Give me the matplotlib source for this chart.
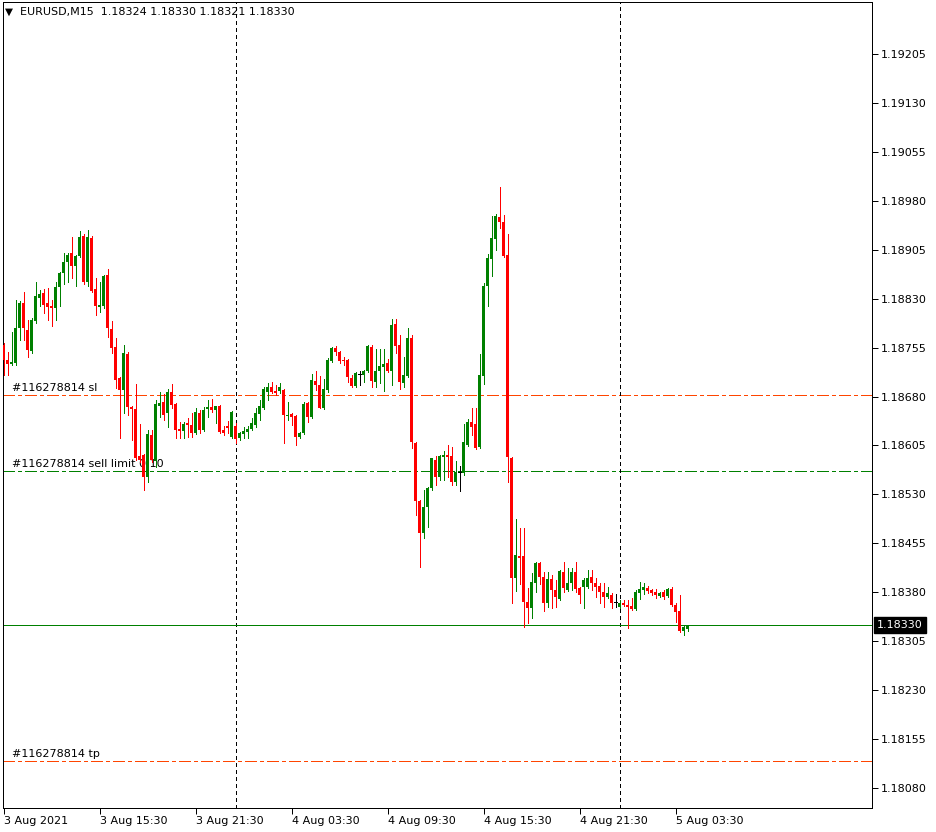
import matplotlib
matplotlib.use("Agg")
import matplotlib.pyplot as plt
import numpy as np

symbol_header = "EURUSD,M15  1.18324 1.18330 1.18321 1.18330"

opens = [
    1.18759, 1.18736, 1.18730, 1.18731, 1.18785, 1.18823, 1.18782, 1.18750, 1.18796, 1.18831,
    1.18839, 1.18823, 1.18818, 1.18815, 1.18848, 1.18869, 1.18886, 1.18900, 1.18880, 1.18895,
    1.18926, 1.18855, 1.18923, 1.18845, 1.18817, 1.18818, 1.18866, 1.18784, 1.18756, 1.18708,
    1.18690, 1.18745, 1.18664, 1.18661, 1.18589, 1.18591, 1.18556, 1.18621, 1.18581, 1.18665,
    1.18671, 1.18655, 1.18687, 1.18668, 1.18630, 1.18627, 1.18639, 1.18636, 1.18624, 1.18655,
    1.18629, 1.18661, 1.18664, 1.18659, 1.18665, 1.18629, 1.18635, 1.18618, 1.18635, 1.18616,
    1.18623, 1.18626, 1.18630, 1.18636, 1.18653, 1.18663, 1.18687, 1.18694, 1.18688, 1.18688,
    1.18690, 1.18650, 1.18653, 1.18650, 1.18618, 1.18624, 1.18670, 1.18649, 1.18704, 1.18698,
    1.18663, 1.18690, 1.18734, 1.18754, 1.18748, 1.18736, 1.18736, 1.18708, 1.18696, 1.18714,
    1.18713, 1.18719, 1.18756, 1.18702, 1.18719, 1.18725, 1.18731, 1.18719, 1.18791, 1.18759,
    1.18701, 1.18711, 1.18769, 1.18609, 1.18520, 1.18471, 1.18511, 1.18539, 1.18583, 1.18557,
    1.18588, 1.18591, 1.18589, 1.18549, 1.18564, 1.18563, 1.18606, 1.18641, 1.18638, 1.18603,
    1.18711, 1.18849, 1.18891, 1.18921, 1.18955, 1.18947, 1.18897, 1.18586, 1.18402, 1.18435,
    1.18435, 1.18365, 1.18356, 1.18394, 1.18425, 1.18403, 1.18364, 1.18400, 1.18383, 1.18370,
    1.18411, 1.18383, 1.18394, 1.18411, 1.18386, 1.18388, 1.18388, 1.18403, 1.18394, 1.18389,
    1.18380, 1.18373, 1.18376, 1.18365, 1.18358, 1.18364, 1.18361, 1.18359, 1.18355, 1.18379,
    1.18383, 1.18386, 1.18383, 1.18380, 1.18374, 1.18380, 1.18374, 1.18385, 1.18361, 1.18351,
    1.18320, 1.18324,
]
highs = [
    1.18762, 1.18748, 1.18779, 1.18828, 1.18826, 1.18840, 1.18797, 1.18800, 1.18855, 1.18843,
    1.18845, 1.18846, 1.18828, 1.18855, 1.18871, 1.18900, 1.18900, 1.18924, 1.18897, 1.18934,
    1.18929, 1.18935, 1.18926, 1.18862, 1.18856, 1.18866, 1.18875, 1.18796, 1.18769, 1.18710,
    1.18759, 1.18748, 1.18666, 1.18699, 1.18638, 1.18592, 1.18629, 1.18629, 1.18675, 1.18687,
    1.18684, 1.18691, 1.18699, 1.18670, 1.18641, 1.18641, 1.18647, 1.18655, 1.18663, 1.18659,
    1.18664, 1.18675, 1.18676, 1.18666, 1.18667, 1.18635, 1.18643, 1.18658, 1.18640, 1.18626,
    1.18633, 1.18635, 1.18647, 1.18663, 1.18675, 1.18694, 1.18700, 1.18702, 1.18697, 1.18700,
    1.18691, 1.18671, 1.18655, 1.18652, 1.18626, 1.18671, 1.18671, 1.18714, 1.18719, 1.18711,
    1.18707, 1.18739, 1.18756, 1.18757, 1.18750, 1.18741, 1.18737, 1.18713, 1.18717, 1.18719,
    1.18721, 1.18759, 1.18759, 1.18753, 1.18753, 1.18753, 1.18737, 1.18799, 1.18799, 1.18774,
    1.18741, 1.18785, 1.18774, 1.18610, 1.18521, 1.18537, 1.18541, 1.18586, 1.18589, 1.18591,
    1.18597, 1.18606, 1.18603, 1.18581, 1.18574, 1.18638, 1.18646, 1.18662, 1.18662, 1.18745,
    1.18854, 1.18898, 1.18957, 1.18960, 1.19001, 1.18958, 1.18929, 1.18588, 1.18492, 1.18478,
    1.18478, 1.18386, 1.18410, 1.18426, 1.18426, 1.18411, 1.18411, 1.18406, 1.18399, 1.18414,
    1.18426, 1.18417, 1.18417, 1.18426, 1.18388, 1.18402, 1.18414, 1.18414, 1.18402, 1.18394,
    1.18394, 1.18388, 1.18379, 1.18377, 1.18368, 1.18368, 1.18368, 1.18371, 1.18383, 1.18396,
    1.18394, 1.18389, 1.18385, 1.18385, 1.18380, 1.18383, 1.18386, 1.18388, 1.18364, 1.18376,
    1.18330, 1.18330,
]
lows = [
    1.18713, 1.18713, 1.18728, 1.18728, 1.18767, 1.18767, 1.18741, 1.18747, 1.18793, 1.18818,
    1.18808, 1.18797, 1.18788, 1.18797, 1.18818, 1.18853, 1.18856, 1.18862, 1.18850, 1.18894,
    1.18852, 1.18850, 1.18840, 1.18805, 1.18809, 1.18815, 1.18771, 1.18747, 1.18693, 1.18616,
    1.18655, 1.18652, 1.18613, 1.18583, 1.18580, 1.18537, 1.18549, 1.18580, 1.18572, 1.18649,
    1.18644, 1.18633, 1.18662, 1.18616, 1.18616, 1.18616, 1.18618, 1.18618, 1.18623, 1.18624,
    1.18627, 1.18649, 1.18657, 1.18640, 1.18624, 1.18621, 1.18624, 1.18617, 1.18609, 1.18614,
    1.18616, 1.18616, 1.18628, 1.18634, 1.18644, 1.18661, 1.18675, 1.18685, 1.18682, 1.18686,
    1.18609, 1.18644, 1.18636, 1.18606, 1.18616, 1.18623, 1.18641, 1.18647, 1.18690, 1.18662,
    1.18661, 1.18687, 1.18733, 1.18744, 1.18731, 1.18728, 1.18702, 1.18694, 1.18694, 1.18698,
    1.18702, 1.18718, 1.18694, 1.18694, 1.18701, 1.18688, 1.18717, 1.18697, 1.18747, 1.18691,
    1.18694, 1.18710, 1.18601, 1.18498, 1.18419, 1.18463, 1.18480, 1.18537, 1.18544, 1.18552,
    1.18552, 1.18557, 1.18544, 1.18544, 1.18535, 1.18560, 1.18604, 1.18621, 1.18600, 1.18601,
    1.18699, 1.18818, 1.18865, 1.18905, 1.18938, 1.18894, 1.18549, 1.18364, 1.18382, 1.18393,
    1.18327, 1.18333, 1.18340, 1.18380, 1.18393, 1.18351, 1.18358, 1.18356, 1.18358, 1.18368,
    1.18380, 1.18382, 1.18383, 1.18380, 1.18364, 1.18356, 1.18386, 1.18383, 1.18373, 1.18364,
    1.18358, 1.18371, 1.18356, 1.18358, 1.18356, 1.18359, 1.18325, 1.18353, 1.18353, 1.18370,
    1.18377, 1.18379, 1.18376, 1.18371, 1.18373, 1.18370, 1.18373, 1.18359, 1.18334, 1.18319,
    1.18315, 1.18321,
]
closes = [
    1.18736, 1.18730, 1.18733, 1.18785, 1.18823, 1.18785, 1.18751, 1.18797, 1.18834, 1.18837,
    1.18820, 1.18817, 1.18815, 1.18848, 1.18869, 1.18886, 1.18897, 1.18880, 1.18895, 1.18925,
    1.18855, 1.18925, 1.18842, 1.18818, 1.18820, 1.18865, 1.18785, 1.18754, 1.18705, 1.18690,
    1.18747, 1.18664, 1.18661, 1.18586, 1.18583, 1.18557, 1.18623, 1.18583, 1.18668, 1.18670,
    1.18652, 1.18687, 1.18667, 1.18629, 1.18627, 1.18638, 1.18636, 1.18624, 1.18657, 1.18629,
    1.18659, 1.18664, 1.18659, 1.18665, 1.18625, 1.18624, 1.18632, 1.18657, 1.18615, 1.18624,
    1.18627, 1.18630, 1.18639, 1.18655, 1.18665, 1.18691, 1.18694, 1.18687, 1.18685, 1.18694,
    1.18652, 1.18652, 1.18649, 1.18618, 1.18624, 1.18668, 1.18649, 1.18705, 1.18698, 1.18663,
    1.18691, 1.18736, 1.18754, 1.18748, 1.18734, 1.18734, 1.18710, 1.18696, 1.18716, 1.18714,
    1.18719, 1.18757, 1.18704, 1.18719, 1.18727, 1.18730, 1.18719, 1.18790, 1.18757, 1.18702,
    1.18713, 1.18769, 1.18610, 1.18520, 1.18471, 1.18511, 1.18540, 1.18585, 1.18557, 1.18589,
    1.18591, 1.18588, 1.18549, 1.18564, 1.18564, 1.18610, 1.18641, 1.18633, 1.18601, 1.18713,
    1.18849, 1.18892, 1.18923, 1.18957, 1.18947, 1.18895, 1.18588, 1.18402, 1.18437, 1.18432,
    1.18365, 1.18356, 1.18396, 1.18425, 1.18403, 1.18364, 1.18400, 1.18383, 1.18373, 1.18412,
    1.18386, 1.18394, 1.18411, 1.18385, 1.18376, 1.18399, 1.18402, 1.18394, 1.18388, 1.18380,
    1.18373, 1.18379, 1.18364, 1.18365, 1.18364, 1.18361, 1.18358, 1.18355, 1.18380, 1.18385,
    1.18388, 1.18382, 1.18379, 1.18376, 1.18379, 1.18373, 1.18385, 1.18361, 1.18350, 1.18320,
    1.18327, 1.18330,
]

time_tick_bars = [0, 24, 48, 72, 96, 120, 144, 168]
time_tick_labels = ["3 Aug 2021", "3 Aug 15:30", "3 Aug 21:30", "4 Aug 03:30",
                    "4 Aug 09:30", "4 Aug 15:30", "4 Aug 21:30", "5 Aug 03:30"]
separator_bars = [58, 154]

price_ticks = [1.18080, 1.18155, 1.18230, 1.18305, 1.18380, 1.18455, 1.18530, 1.18605,
               1.18680, 1.18755, 1.18830, 1.18905, 1.18980, 1.19055, 1.19130, 1.19205]

bid_price = 1.18330
order_levels = [1.18682, 1.18566, 1.18121]
order_labels = ["#116278814 sl", "#116278814 sell limit 0.10", "#116278814 tp"]
order_colors = ["#FF4500", "#008000", "#FF4500"]

# ---------------------------------------------------------------
W, H = 936, 832
DPI = 100
PX = 72.0 / DPI  # one pixel in points
fig = plt.figure(figsize=(W / DPI, H / DPI), dpi=DPI)
fig.patch.set_facecolor("white")
ax_l, ax_r, ax_t, ax_b = 2.5, 872, 2, 808
ax = fig.add_axes([ax_l / W, 1 - ax_b / H, (ax_r - ax_l) / W, (ax_b - ax_t) / H])

o = np.array(opens); h = np.array(highs); l = np.array(lows); c = np.array(closes)
x = np.arange(len(o))

GREEN = "#008000"
RED = "#FF0000"
cols = np.where(c > o, GREEN, np.where(c < o, RED, "#000000"))

# order lines & labels (drawn below candles)
for lev, lab, col in zip(order_levels, order_labels, order_colors):
    ax.axhline(lev, color=col, lw=PX, ls=(0, (11, 4, 3, 4)), zorder=1,
               antialiased=False)
    ax.annotate(lab, xy=(0, lev), xycoords=ax.get_yaxis_transform(),
                xytext=(9, 2), textcoords="offset pixels", fontsize=8,
                color="#000000", va="bottom", ha="left", zorder=1)

# period separators
for sb in separator_bars:
    ax.axvline(sb, color="black", lw=PX, ls=(0, (4, 3)), zorder=1.2,
               antialiased=False)

# bid line
ax.axhline(bid_price, color=GREEN, lw=PX, zorder=1.5, antialiased=False)

# candles
ax.vlines(x, l, h, colors=cols, lw=PX, zorder=3, antialiased=False)
body_w = 0.75
bottoms = np.minimum(o, c)
heights = np.abs(c - o)
mask = heights > 0
ax.bar(x[mask], heights[mask], bottom=bottoms[mask], width=body_w,
       color=cols[mask], linewidth=0, zorder=3.5, antialiased=False)
doji = ~mask
ax.hlines(o[doji], x[doji] - body_w / 2, x[doji] + body_w / 2, colors="black",
          lw=PX, zorder=3.5, antialiased=False)

# axes limits (pixel-accurate mapping)
px_per_bar = 4.0
x0 = 3.5
ax.set_xlim((ax_l - x0) / px_per_bar, (ax_r - x0) / px_per_bar)
p_per_px = 0.00075 / 48.93
y_1205 = 54
ax.set_ylim(1.19205 - (ax_b - y_1205) * p_per_px, 1.19205 + (y_1205 - ax_t) * p_per_px)

# y axis on right
ax.yaxis.tick_right()
ax.set_yticks(price_ticks)
ax.set_yticklabels([f"{p:.5f}" for p in price_ticks])
ax.tick_params(axis="y", direction="out", length=4, width=PX, pad=2, labelsize=8,
               colors="black")
ax.set_xticks(time_tick_bars)
ax.set_xticklabels(time_tick_labels, ha="left")
ax.tick_params(axis="x", direction="out", length=4, width=PX, pad=2, labelsize=8)
for lbl in ax.get_xticklabels():
    lbl.set_horizontalalignment("left")

for sp in ax.spines.values():
    sp.set_color("black")
    sp.set_linewidth(PX)

# bid price box
ax.annotate(f"{bid_price:.5f}", xy=(1, bid_price), xycoords=ax.get_yaxis_transform(),
            xytext=(5, 0), textcoords="offset pixels", fontsize=8, color="white",
            va="center", ha="left", annotation_clip=False, zorder=10,
            bbox=dict(boxstyle="square,pad=0.25", fc="black", ec="black"))

# header
fig.text(5 / W, 1 - 12 / H, "\u25BC", fontsize=7.5, va="center", ha="left", color="black")
fig.text(20 / W, 1 - 12 / H, symbol_header, fontsize=8, va="center", ha="left", color="black")

fig.savefig("out.png", dpi=DPI, facecolor="white")
